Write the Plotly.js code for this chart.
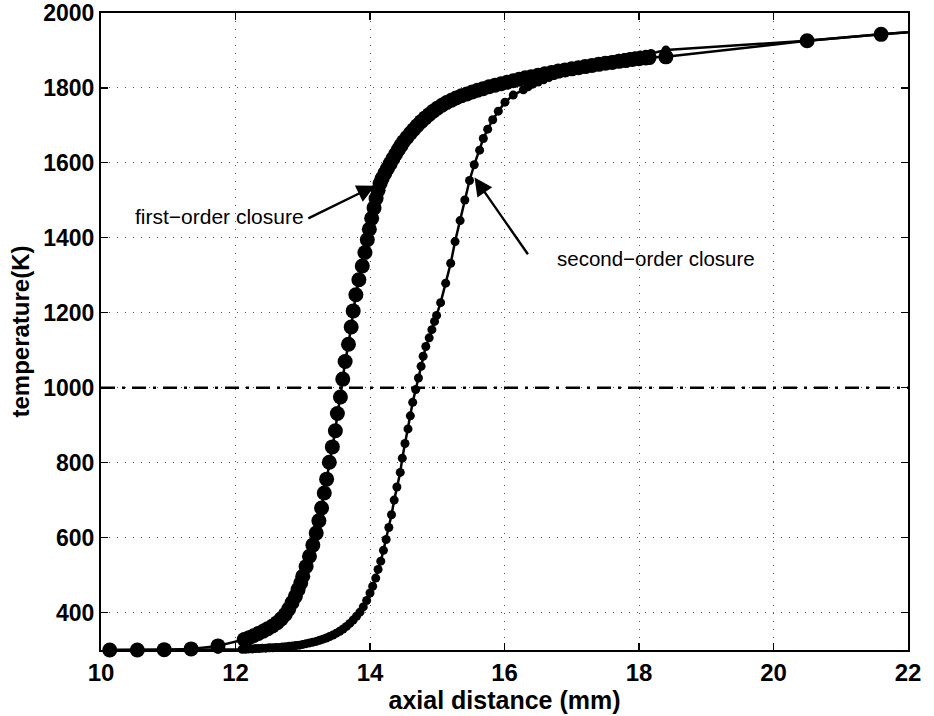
<!DOCTYPE html>
<html>
<head>
<meta charset="utf-8">
<script src="https://cdn.plot.ly/plotly-3.0.1.min.js"></script>
<style>html,body{margin:0;padding:0;background:#fff}#chart{width:934px;height:716px}</style>
</head>
<body>
<div id="chart"></div>
<script>
// First-order closure: axial distance (mm) and temperature (K)
const firstOrderX = [10.13,10.54,10.94,11.34,11.74,12.13,12.20,12.27,12.34,12.41,12.48,12.55,12.62,12.68,12.74,12.79,12.84,12.89,12.93,12.97,13.00,13.05,13.10,13.15,13.20,13.24,13.28,13.32,13.355,13.395,13.44,13.485,13.515,13.56,13.595,13.63,13.68,13.72,13.75,13.79,13.835,13.885,13.925,13.96,13.99,14.025,
  14.06,14.09,14.12,14.15,14.18,14.22,14.26,14.30,14.34,14.38,14.42,14.46,14.50,14.55,14.60,14.65,14.70,14.76,14.82,14.88,14.94,15.00,15.07,15.14,15.21,15.28,15.36,15.44,15.52,15.60,15.68,15.77,15.86,15.95,16.04,16.13,16.22,16.31,16.40,16.50,16.60,16.70,16.80,16.90,17.00,17.10,17.20,17.30,17.40,17.50,17.60,17.70,17.80,17.90,18.00,18.10,18.15,18.40,20.50,21.60,22.70];
const firstOrderT = [300,300,301,303,311,328,333,338,344,350,357,364,373,383,395,409,426,443,461,479,497,523,550,580,612,645,679,719,756,801,842,885,931,975,1023,1070,1116,1162,1205,1248,1288,1325,1361,1395,1423,1452,
  1480,1505,1527,1545,1558,1572,1585,1598,1611,1623,1635,1646,1657,1668,1679,1689,1699,1710,1720,1729,1738,1746,1754,1761,1767,1773,1779,1784,1789,1794,1798,1803,1807,1811,1815,1819,1823,1827,1830,1834,1838,1841,1845,1848,1851,1854,1857,1860,1863,1866,1868,1871,1873,1876,1878,1880,1881,1883,1926,1943,1958];

// Second-order closure
const secondOrderX = [10.13,10.54,10.94,11.34,11.74,12.10,12.15,12.20,12.25,12.30,12.35,12.40,12.45,12.50,12.55,12.60,12.65,12.70,12.75,12.80,12.85,12.90,12.95,13.00,13.05,13.10,13.15,13.20,13.25,13.30,13.35,13.40,13.45,13.50,13.55,13.60,13.65,13.70,13.75,13.80,13.85,13.90,13.95,14.00,14.04,14.085,14.12,14.16,14.20,14.24,14.28,14.32,14.36,14.40,14.45,14.48,14.52,14.565,14.60,14.635,14.68,14.72,14.76,14.79,14.83,14.88,14.92,14.96,14.99,15.05,15.125,15.20,15.265,15.34,15.41,15.48,15.55,15.63,15.685,15.75,15.825,15.908,16.007,16.13,16.28,
  16.35,16.42,16.50,16.58,16.66,16.74,16.82,16.90,16.98,17.06,17.14,17.22,17.30,17.38,17.46,17.54,17.62,17.70,17.78,17.86,17.94,18.02,18.10,18.18,18.40,20.50,21.60,22.70];
const secondOrderT = [300,300,300,301,302,302,302,303,303,304,304,305,305,306,306,307,307,308,309,310,311,312,313,315,317,319,321,323,326,329,332,336,340,345,350,356,363,371,380,390,401,415,432,452,470,492,515,537,566,595,627,661,700,735,774,812,851,890,925,961,995,1026,1057,1084,1110,1133,1155,1177,1193,1227,1279,1332,1390,1446,1501,1553,1595,1634,1665,1690,1715,1738,1762,1781,1795,
  1803,1810,1816,1822,1828,1833,1838,1843,1848,1852,1856,1860,1864,1867,1870,1873,1876,1879,1881,1884,1886,1888,1890,1892,1901,1926,1943,1958];

const refLevel = 1000;
const xTicks = [10,12,14,16,18,20,22];
const yTicks = [400,600,800,1000,1200,1400,1600,1800,2000];

const FONT = 'Liberation Sans, Arial, Helvetica, sans-serif';

const traces = [
  {x: secondOrderX, y: secondOrderT, type: 'scatter', mode: 'lines+markers', cliponaxis: false,
   line: {color: '#000', width: 2.5}, marker: {color: '#000', size: 9}, showlegend: false, hoverinfo: 'skip'},
  {x: firstOrderX, y: firstOrderT, type: 'scatter', mode: 'lines+markers', cliponaxis: false,
   line: {color: '#000', width: 2.5}, marker: {color: '#000', size: 15}, showlegend: false, hoverinfo: 'skip'}
];

const axisCommon = {
  showline: true, linecolor: '#000', linewidth: 2, mirror: 'ticks',
  ticks: 'inside', ticklen: 7, tickwidth: 1.2, tickcolor: '#000',
  showgrid: true, gridcolor: '#555', gridwidth: 1, griddash: '1px,7px',
  zeroline: false,
  tickfont: {family: FONT, size: 23, color: '#000', weight: 'bold'}
};

const layout = {
  width: 934, height: 716,
  margin: {l: 101, r: 26, t: 13, b: 66},
  paper_bgcolor: '#fff', plot_bgcolor: '#fff',
  xaxis: Object.assign({}, axisCommon, {
    range: [10, 22], tickvals: xTicks, ticktext: xTicks.map(String),
    tickfont: {family: FONT, size: 24, color: '#000', weight: 'bold'},
    title: {text: 'axial distance (mm)', font: {family: FONT, size: 25, color: '#000', weight: 'bold'}, standoff: 2}
  }),
  yaxis: Object.assign({}, axisCommon, {
    range: [300, 2000], tickvals: yTicks, ticktext: yTicks.map(String),
    title: {text: 'temperature(K)', font: {family: FONT, size: 24, color: '#000', weight: 'bold'}, standoff: 7}
  }),
  shapes: [
    {type: 'line', xref: 'paper', x0: 0, x1: 1, yref: 'y', y0: refLevel, y1: refLevel,
     line: {color: '#000', width: 2.5, dash: '14px,7px,3px,7px'}}
  ],
  annotations: [
    {xref: 'x', yref: 'y', x: 14.074, y: 1539, axref: 'x', ayref: 'y', ax: 13.06, ay: 1450,
     text: '', showarrow: true, arrowhead: 2, arrowsize: 1.5, arrowwidth: 2.4, arrowcolor: '#000', standoff: 0},
    {xref: 'x', yref: 'y', x: 13.05, y: 1456, xanchor: 'right', yanchor: 'middle', showarrow: false,
     text: 'first−order closure', font: {family: FONT, size: 21, color: '#000'}},
    {xref: 'x', yref: 'y', x: 15.554, y: 1561, axref: 'x', ayref: 'y', ax: 16.364, ay: 1352,
     text: '', showarrow: true, arrowhead: 2, arrowsize: 1.5, arrowwidth: 2.4, arrowcolor: '#000', standoff: 0},
    {xref: 'x', yref: 'y', x: 16.75, y: 1344, xanchor: 'left', yanchor: 'middle', showarrow: false,
     text: 'second−order closure', font: {family: FONT, size: 20.5, color: '#000'}}
  ]
};

Plotly.newPlot('chart', traces, layout, {staticPlot: true, displayModeBar: false});
</script>
</body>
</html>
